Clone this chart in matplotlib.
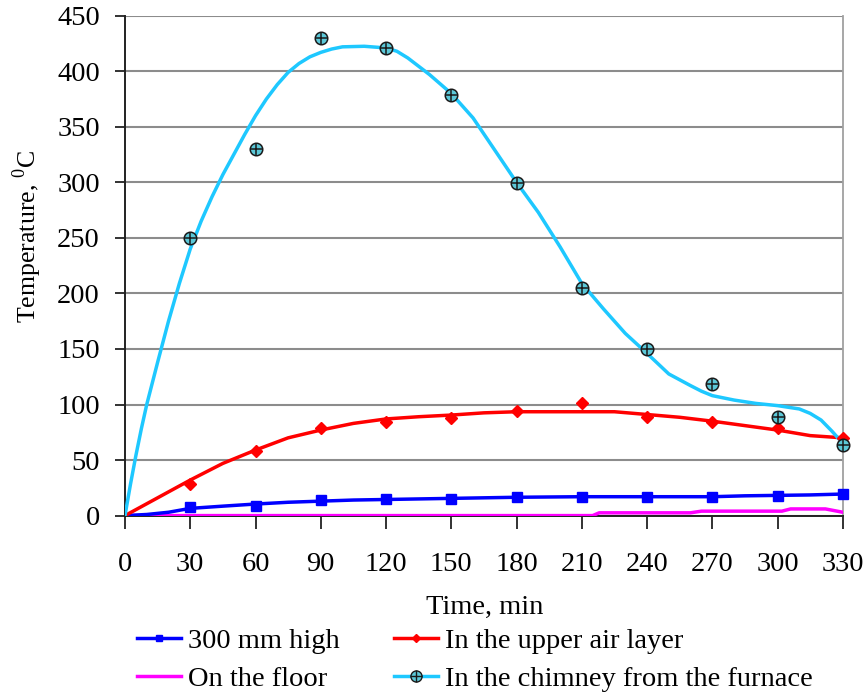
import matplotlib
matplotlib.use("Agg")
import matplotlib.pyplot as plt
from matplotlib.legend_handler import HandlerTuple
from matplotlib.lines import Line2D

plt.rcParams['font.family'] = ['Liberation Serif', 'DejaVu Serif']
plt.rcParams['mathtext.fontset'] = 'custom'
plt.rcParams['mathtext.rm'] = 'Liberation Serif'

FS = 20.5

# ---- measured data points ----
time_pts = [30, 60, 90, 120, 150, 180, 210, 240, 270, 300, 330]
high300_pts = [8, 8.5, 14, 15, 15, 17, 17, 17, 17, 18, 19.5]
upper_pts = [28, 58, 78.5, 84.5, 87.5, 94, 101, 88.5, 84, 78.5, 69.5]
chimney_pts = [250, 330, 430, 421, 379, 299, 205, 150, 118.5, 89, 64]

# ---- trend curves ----
chim_t = [0, 2.5, 5, 7.5, 10, 15, 20, 25, 30, 35, 40, 45, 50, 55, 60, 65, 70, 75, 80,
          85, 90, 95, 100, 110, 120, 125, 130, 140, 150, 160, 170, 180, 190, 200, 210,
          220, 230, 240, 250, 260, 265, 270, 280, 290, 300, 310, 315, 320, 325, 330]
chim_v = [0, 28, 54, 78, 100, 138, 175, 209, 240, 265, 287, 307, 325, 343, 360, 375,
          388, 399, 407, 413, 417, 420, 422, 422.5, 421, 418, 412, 397, 380, 358, 329,
          300, 273, 242, 209, 186, 164, 146, 127.5, 117, 112, 108, 104, 101, 99, 96,
          92, 86, 76, 65]

upper_t = [0, 15, 30, 45, 60, 75, 90, 105, 120, 135, 150, 165, 180, 195, 210, 225,
           240, 255, 270, 285, 300, 315, 330]
upper_v = [0, 16, 32, 47, 59, 70, 77, 83, 87, 89, 90.5, 92.5, 93.5, 93.5, 93.5, 93.5,
           91, 88.5, 85, 81, 77, 72, 70]

high_t = [0, 10, 20, 30, 45, 60, 75, 90, 105, 120, 150, 180, 210, 240, 270, 285,
          300, 315, 330]
high_v = [0, 1, 3, 6.5, 8.5, 10.4, 12, 13, 14, 14.5, 15.5, 16.5, 17, 17, 17, 17.8,
          18.2, 18.6, 19.4]

floor_t = [0, 215, 218, 260, 265, 302, 306, 322, 330]
floor_v = [0, 0, 2.5, 2.5, 4, 4, 6, 6, 3]

labels = ["300 mm high", "On the floor", "In the upper air layer",
          "In the chimney from the furnace"]
x_ticks = list(range(0, 331, 30))
y_ticks = list(range(0, 451, 50))

BLUE = "#0000FF"
RED = "#FF0000"
PINK = "#FF00FF"
CYAN = "#1EC8FF"

fig = plt.figure(figsize=(8.68, 6.93), dpi=100)
ax = fig.add_axes([0.144, 0.256, 0.827, 0.7213])

ax.set_xlim(0, 330)
ax.set_ylim(0, 450)
ax.set_xticks(x_ticks)
ax.set_yticks(y_ticks)
ax.yaxis.grid(True, color="#8c8c8c", linewidth=1.5)
ax.set_axisbelow(True)

ax.spines["top"].set_visible(False)
ax.spines["right"].set_color("#a0a0a0")
ax.spines["right"].set_linewidth(1.3)
ax.spines["left"].set_color("#222222")
ax.spines["bottom"].set_color("#222222")
ax.spines["left"].set_linewidth(1.4)
ax.spines["bottom"].set_linewidth(1.4)

ax.tick_params(axis="y", direction="out", length=7, width=1.3, pad=11,
               labelsize=FS, colors="#222222", labelcolor="black")
ax.tick_params(axis="x", direction="out", length=9, width=1.3, pad=17,
               labelsize=FS, colors="#222222", labelcolor="black")

# curves
ax.plot(floor_t, floor_v, color=PINK, lw=2.5, zorder=3)
ax.plot(high_t, high_v, color=BLUE, lw=2.5, zorder=3)
ax.plot(upper_t, upper_v, color=RED, lw=2.5, zorder=3)
ax.plot(chim_t, chim_v, color=CYAN, lw=2.5, zorder=3)

# markers
ax.plot(time_pts, high300_pts, ls="none", marker="s", ms=7, color=BLUE, zorder=4,
        clip_on=False)
ax.plot(time_pts, upper_pts, ls="none", marker="D", ms=6.5, color=RED, zorder=4,
        clip_on=False)
ax.plot(time_pts, chimney_pts, ls="none", marker="o", ms=9, mfc="#5cc8d8",
        mec="#1a1a1a", mew=1.1, zorder=5, clip_on=False)
ax.plot(time_pts, chimney_pts, ls="none", marker="+", ms=9, mec="#1a1a1a",
        mew=1.1, zorder=6, clip_on=False)

fig.text(27 / 868, 1 - 237 / 693, "Temperature, $^{0}$C", rotation=90,
         ha="center", va="center", fontsize=18.6)
fig.text(485 / 868, 1 - 607 / 693, "Time, min", ha="center", va="center",
         fontsize=FS)

h_blue = Line2D([], [], color=BLUE, lw=2.5, marker="s", ms=5)
h_pink = Line2D([], [], color=PINK, lw=2.5)
h_red = Line2D([], [], color=RED, lw=2.5, marker="D", ms=4.5)
h_c1 = Line2D([], [], color=CYAN, lw=2.5, marker="o", ms=8, mfc="#5cc8d8",
              mec="#1a1a1a", mew=1)
h_c2 = Line2D([], [], ls="none", marker="+", ms=8, mec="#1a1a1a", mew=1)

fig.legend([h_blue, h_pink, h_red, (h_c1, h_c2)], labels, ncol=2,
           loc="upper left", bbox_to_anchor=(137 / 868, 1 - 628 / 693),
           frameon=False, fontsize=FS, handlelength=1.55, handletextpad=0.25,
           columnspacing=1.9, labelspacing=0.42, borderpad=0, borderaxespad=0,
           handler_map={tuple: HandlerTuple(ndivide=1)})

fig.savefig("out.png", dpi=100)
